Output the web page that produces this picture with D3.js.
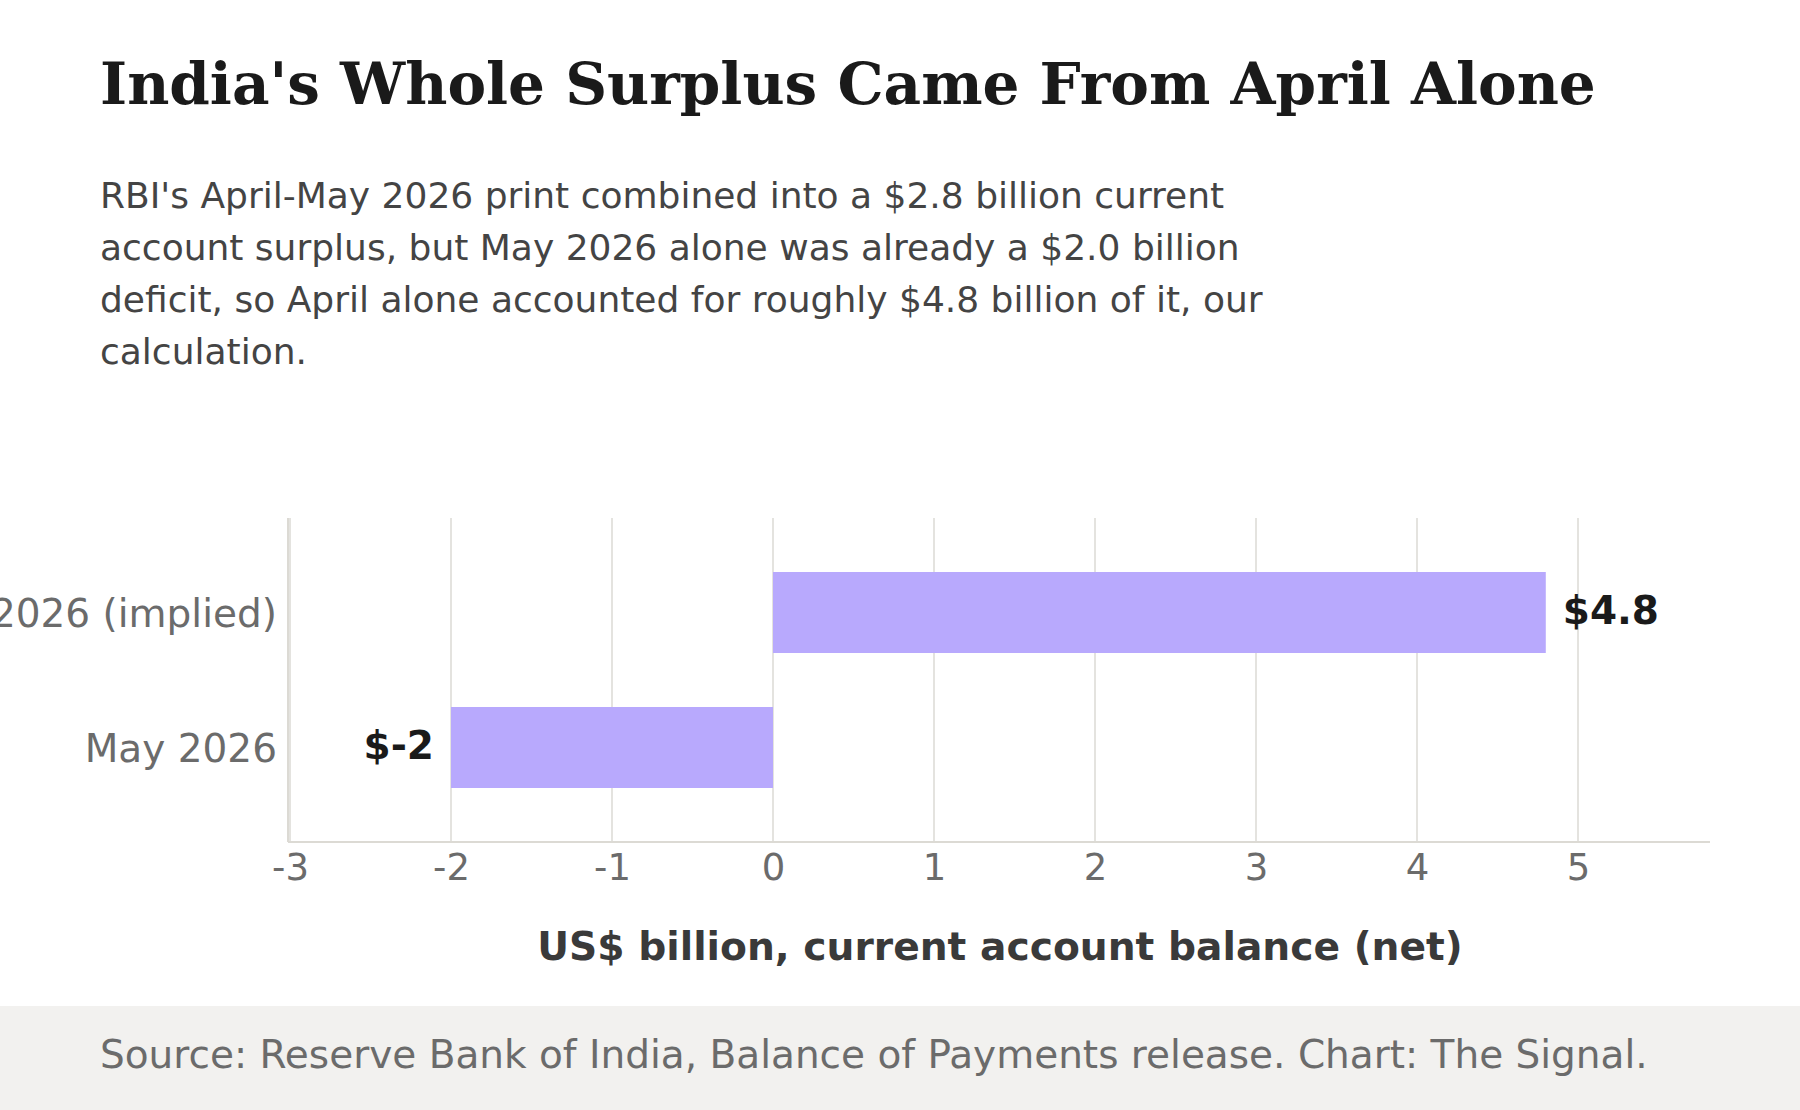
<!DOCTYPE html>
<html>
<head>
<meta charset="utf-8">
<script src="https://cdn.jsdelivr.net/npm/d3@7"></script>
<style>
  body { margin: 0; background: #fff; }
  svg { display: block; }
</style>
</head>
<body>
<div id="chart"></div>
<script>
// data
const categories = ["April 2026 (implied)", "May 2026"]
const values = [4.8, -2.0] // US$ billion
const xTicks = [-3, -2, -1, 0, 1, 2, 3, 4, 5]

const title = "India's Whole Surplus Came From April Alone"
const subtitleLines = [
  "RBI's April-May 2026 print combined into a $2.8 billion current",
  "account surplus, but May 2026 alone was already a $2.0 billion",
  "deficit, so April alone accounted for roughly $4.8 billion of it, our",
  "calculation."
]
const axisTitle = "US$ billion, current account balance (net)"
const source = "Source: Reserve Bank of India, Balance of Payments release. Chart: The Signal."

const width = 1800
const height = 1110
const plot = { left: 290, right: 1710, top: 518, bottom: 842 }

const svg = d3.select("#chart")
  .append("svg")
  .attr("width", width)
  .attr("height", height)
  .style("font-family", "'DejaVu Sans', sans-serif")

// title + subtitle
svg.append("text")
  .attr("x", 100)
  .attr("y", 104)
  .attr("font-family", "'DejaVu Serif', serif")
  .attr("font-weight", "bold")
  .attr("font-size", 58)
  .attr("fill", "#1a1a1a")
  .text(title)

svg.append("g")
  .selectAll("text")
  .data(subtitleLines)
  .join("text")
  .attr("x", 100)
  .attr("y", (d, i) => 208 + i * 52)
  .attr("font-size", 36)
  .attr("fill", "#444")
  .text(d => d)

// scales
const x = d3.scaleLinear()
  .domain([-3, 5.82])
  .range([plot.left, plot.right])

const y = d3.scaleBand()
  .domain(categories)
  .range([plot.top, plot.bottom])
  .padding(0.4)

// vertical gridlines
svg.append("g")
  .selectAll("line")
  .data(xTicks)
  .join("line")
  .attr("x1", d => x(d))
  .attr("x2", d => x(d))
  .attr("y1", plot.top)
  .attr("y2", plot.bottom)
  .attr("stroke", "#e4e3df")
  .attr("stroke-width", 2)

// bars
svg.append("g")
  .selectAll("rect")
  .data(values)
  .join("rect")
  .attr("x", d => x(Math.min(0, d)))
  .attr("width", d => Math.abs(x(d) - x(0)))
  .attr("y", (d, i) => y(categories[i]))
  .attr("height", y.bandwidth())
  .attr("fill", "#b8a9fd")

// value labels
svg.append("g")
  .selectAll("text")
  .data(values)
  .join("text")
  .attr("x", d => d >= 0 ? x(d) + 17 : x(d) - 17)
  .attr("y", (d, i) => y(categories[i]) + y.bandwidth() / 2)
  .attr("dy", "0.3em")
  .attr("text-anchor", d => d >= 0 ? "start" : "end")
  .attr("font-size", 39)
  .attr("font-weight", "bold")
  .attr("fill", "#1a1a1a")
  .text(d => "$" + d)

// x axis
const xAxis = svg.append("g")
  .attr("transform", `translate(0,${plot.bottom})`)
  .call(d3.axisBottom(x).tickValues(xTicks).tickSize(0).tickPadding(12).tickFormat(d => String(d)))
xAxis.select(".domain").remove()
xAxis.selectAll("text")
  .attr("font-size", 37)
  .attr("font-family", "'DejaVu Sans', sans-serif")
  .attr("fill", "#6b6b6b")

svg.append("line")
  .attr("x1", plot.left - 2)
  .attr("x2", plot.right)
  .attr("y1", plot.bottom)
  .attr("y2", plot.bottom)
  .attr("stroke", "#dcdad4")
  .attr("stroke-width", 2)

// y axis
const yAxis = svg.append("g")
  .attr("transform", `translate(${plot.left - 2},0)`)
  .call(d3.axisLeft(y).tickSize(0).tickPadding(11))
yAxis.select(".domain").remove()
yAxis.selectAll("text")
  .attr("font-size", 39)
  .attr("font-family", "'DejaVu Sans', sans-serif")
  .attr("fill", "#6b6b6b")
  .attr("dy", "0.38em")

svg.append("line")
  .attr("x1", plot.left - 2)
  .attr("x2", plot.left - 2)
  .attr("y1", plot.top)
  .attr("y2", plot.bottom)
  .attr("stroke", "#dcdad4")
  .attr("stroke-width", 2)

// axis title
svg.append("text")
  .attr("x", (plot.left + plot.right) / 2)
  .attr("y", 960)
  .attr("text-anchor", "middle")
  .attr("font-size", 39.2)
  .attr("font-weight", "bold")
  .attr("fill", "#3a3a3a")
  .text(axisTitle)

// footer band
svg.append("rect")
  .attr("x", 0)
  .attr("y", 1006)
  .attr("width", width)
  .attr("height", height - 1006)
  .attr("fill", "#f2f1ef")

svg.append("text")
  .attr("x", 100)
  .attr("y", 1068)
  .attr("font-size", 39)
  .attr("fill", "#6b6b6b")
  .text(source)
</script>
</body>
</html>
